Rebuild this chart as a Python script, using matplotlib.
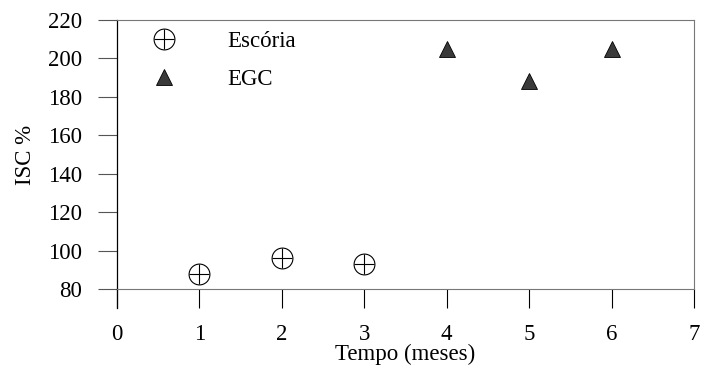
import numpy as np
import matplotlib.pyplot as plt
from matplotlib.legend_handler import HandlerTuple

plt.rcParams['font.family'] = ['Liberation Serif', 'DejaVu Serif']

# valores
meses_escoria = [1, 2, 3]
isc_escoria = [88, 96, 93]
meses_egc = [4, 5, 6]
isc_egc = [205, 188, 205]

x_ticks = [0, 1, 2, 3, 4, 5, 6, 7]
y_ticks = [80, 100, 120, 140, 160, 180, 200, 220]

fs = 16.5

fig = plt.figure(figsize=(7.08, 3.68), dpi=100)
ax = fig.add_axes([0.1653, 0.2147, 0.8149, 0.731])

# Escoria: circulo com cruz
c1, = ax.plot(meses_escoria, isc_escoria, "o", ms=15, mfc="white", mec="black", mew=0.8, clip_on=False)
c2, = ax.plot(meses_escoria, isc_escoria, "+", ms=15, mec="black", mew=0.8, clip_on=False)
# EGC: triangulos escuros
t1, = ax.plot(meses_egc, isc_egc, "^", ms=12, mfc="#3a3a3a", mec="black", mew=0.6)

ax.set_xlim(0, 7)
ax.set_ylim(80, 220)
ax.set_xticks(x_ticks)
ax.set_yticks(y_ticks)

for s in ["top", "right", "bottom"]:
    ax.spines[s].set_color("#777777")
    ax.spines[s].set_linewidth(0.8)
ax.spines["left"].set_color("black")
ax.spines["left"].set_linewidth(0.9)
# eixo y prolongado ate o fim dos ticks do eixo x
ax.plot([0, 0], [0, -0.0706], transform=ax.transAxes, color="black", lw=0.9, clip_on=False)

ax.tick_params(axis="x", direction="out", length=14, width=0.8, pad=11, labelsize=fs)
ax.tick_params(axis="y", direction="out", length=14, width=0.8, pad=11, labelsize=fs, color="#555555")

ax.set_xlabel("Tempo (meses)", fontsize=fs, labelpad=-1)
ax.set_ylabel("ISC %", fontsize=fs, labelpad=9)

ax.legend([(c1, c2), t1], ["Escória", "EGC"], handler_map={tuple: HandlerTuple(ndivide=1)},
          loc="upper left", bbox_to_anchor=(0.042, 0.96), frameon=False, fontsize=fs,
          borderpad=0, borderaxespad=0, handlelength=2, handletextpad=1.75, labelspacing=0.75)

fig.savefig("out.png", dpi=100)
